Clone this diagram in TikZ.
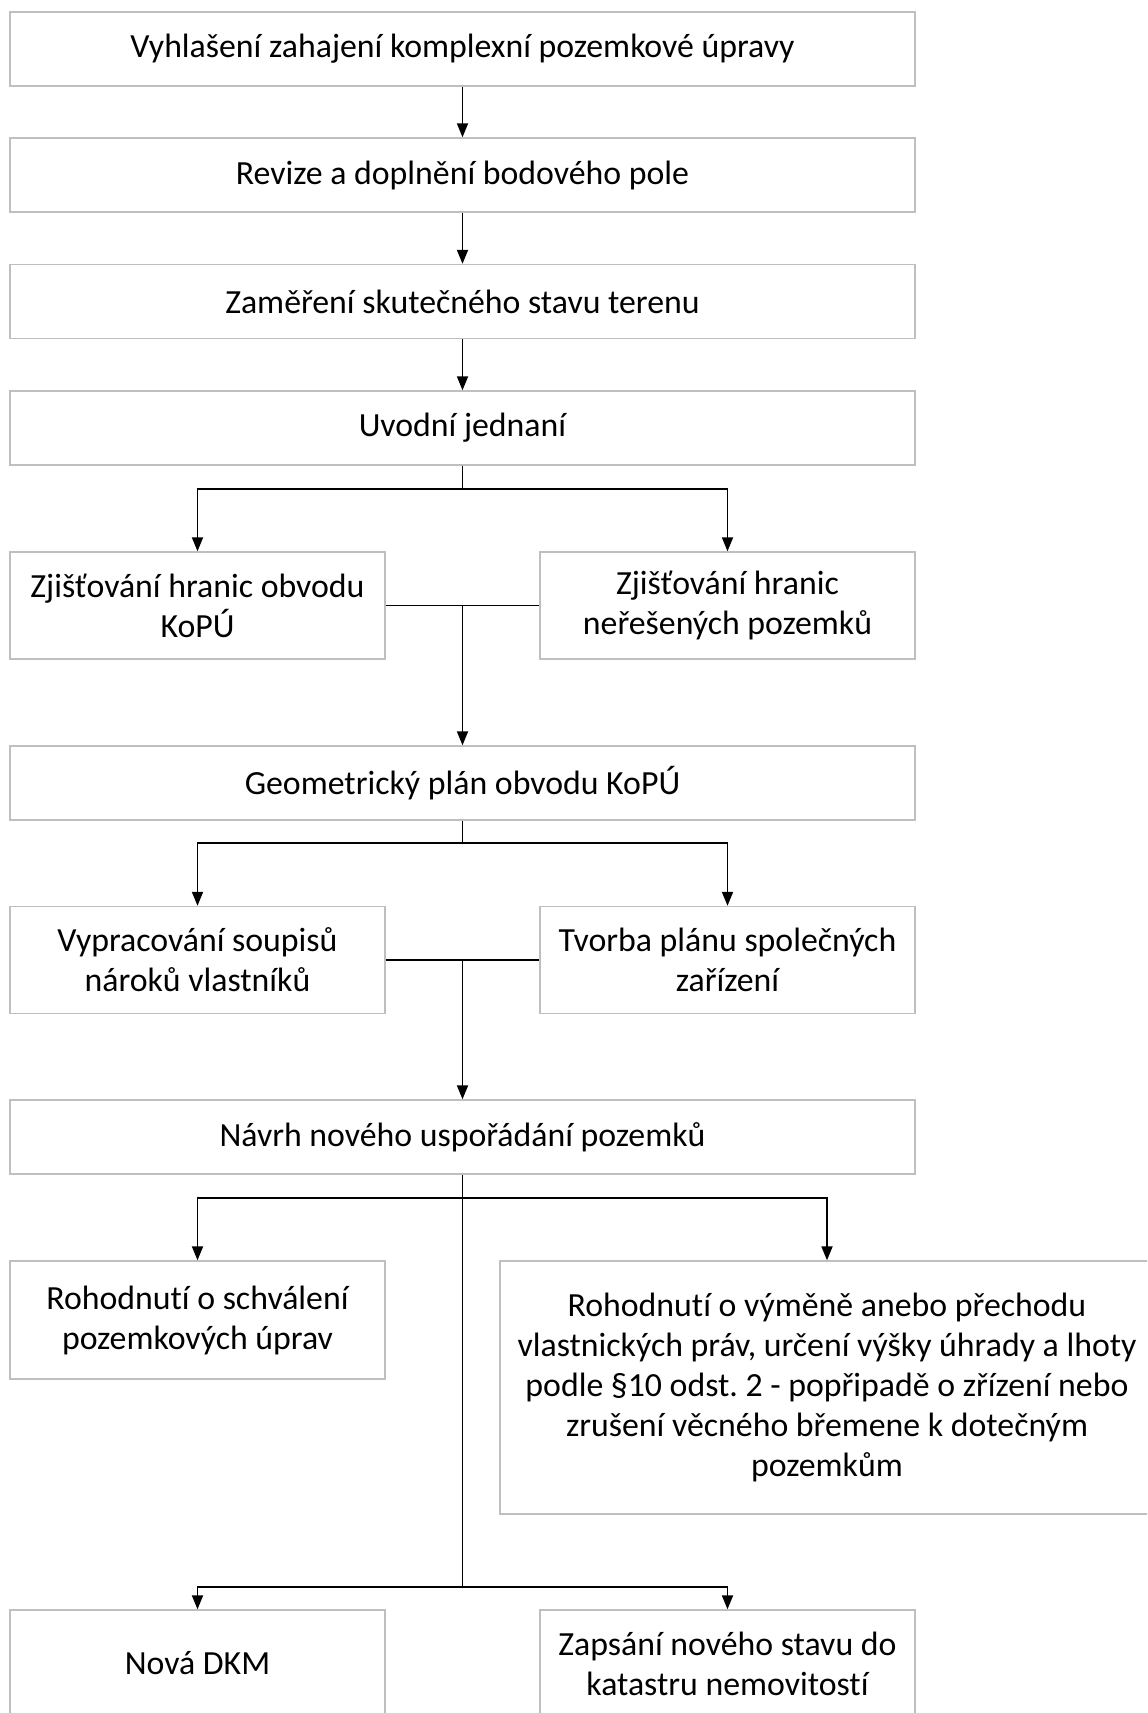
\documentclass[tikz,border=0pt]{standalone}
\usepackage{fontspec}
\setmainfont{Carlito}[Ligatures=NoCommon]
\frenchspacing
\usetikzlibrary{positioning}
\usetikzlibrary{arrows.meta}

\begin{document}
\begin{tikzpicture}[x=0.5pt,y=-0.5pt,
  krok/.style={draw=gray!50,line width=0.7pt,rectangle,inner sep=0pt,align=center,
    font=\fontsize{16.9}{20}\selectfont,minimum width=452.5pt,minimum height=37pt},
  polo/.style={krok,minimum width=187.5pt,minimum height=53.5pt},
  spoj/.style={line width=0.9pt},
  pijl/.style={spoj,-{Triangle[width=5.5pt,length=7pt]}}]
 \clip (0,0) rectangle (1147,1713);
 \fill[white] (0,0) rectangle (1147,1713);
 \node[krok] (b1) at (462.5,49) {Vyhlašení zahajení komplexní pozemkové úpravy};
 \node[krok] (b2) at (462.5,175) {Revize a doplnění bodového pole};
 \node[krok] (b3) at (462.5,301.5) {Zaměření skutečného stavu terenu};
 \node[krok] (b4) at (462.5,428) {Uvodní jednaní};
 \node[polo] (b5l) at (197.5,605.5) {Zjišťování hranic obvodu\\KoPÚ};
 \node[polo] (b5r) at (727.5,605.5) {Zjišťování hranic\\neřešených pozemků};
 \node[krok] (b6) at (462.5,783) {Geometrický plán obvodu KoPÚ};
 \node[polo] (b7l) at (197.5,960) {Vypracování soupisů\\nároků vlastníků};
 \node[polo] (b7r) at (727.5,960) {Tvorba plánu společných\\zařízení};
 \node[krok] (b8) at (462.5,1137) {Návrh nového uspořádání pozemků};
 \node[polo,minimum height=59pt] (b9l) at (197.5,1320) {Rohodnutí o schválení\\pozemkových úprav};
 \node[krok,minimum width=327pt,minimum height=126.5pt] (b9r) at (827,1387.5)
   {Rohodnutí o výměně anebo přechodu\\vlastnických práv, určení výšky úhrady a lhoty\\podle §10 odst. 2 - popřipadě o zřízení nebo\\zrušení věcného břemene k dotečným\\pozemkům};
 \node[polo] (b10l) at (197.5,1663.5) {Nová DKM};
 \node[polo] (b10r) at (727.5,1663.5) {Zapsání nového stavu do\\katastru nemovitostí};

 \coordinate (f1) at (462.5,489);
 \coordinate (j1) at (462.5,606);
 \coordinate (f2) at (462.5,843);
 \coordinate (j2) at (462.5,960);
 \coordinate (f3) at (462.5,1198);
 \coordinate (f4) at (462.5,1587);

 \draw[pijl] (b1) -- (b2);
 \draw[pijl] (b2) -- (b3);
 \draw[pijl] (b3) -- (b4);
 \draw[spoj] (b4.south) -- (f1);
 \draw[pijl] (f1) -| (b5l.north);
 \draw[pijl] (f1) -| (b5r.north);
 \draw[spoj] (b5l.east) -- (b5r.west);
 \draw[pijl] (j1) -- (b6.north);
 \draw[spoj] (b6.south) -- (f2);
 \draw[pijl] (f2) -| (b7l.north);
 \draw[pijl] (f2) -| (b7r.north);
 \draw[spoj] (b7l.east) -- (b7r.west);
 \draw[pijl] (j2) -- (b8.north);
 \draw[spoj] (b8.south) -- (f4);
 \draw[pijl] (f3) -| (b9l.north);
 \draw[pijl] (f3) -| (b9r.north);
 \draw[pijl] (f4) -| (b10l.north);
 \draw[pijl] (f4) -| (b10r.north);
\end{tikzpicture}
\end{document}
